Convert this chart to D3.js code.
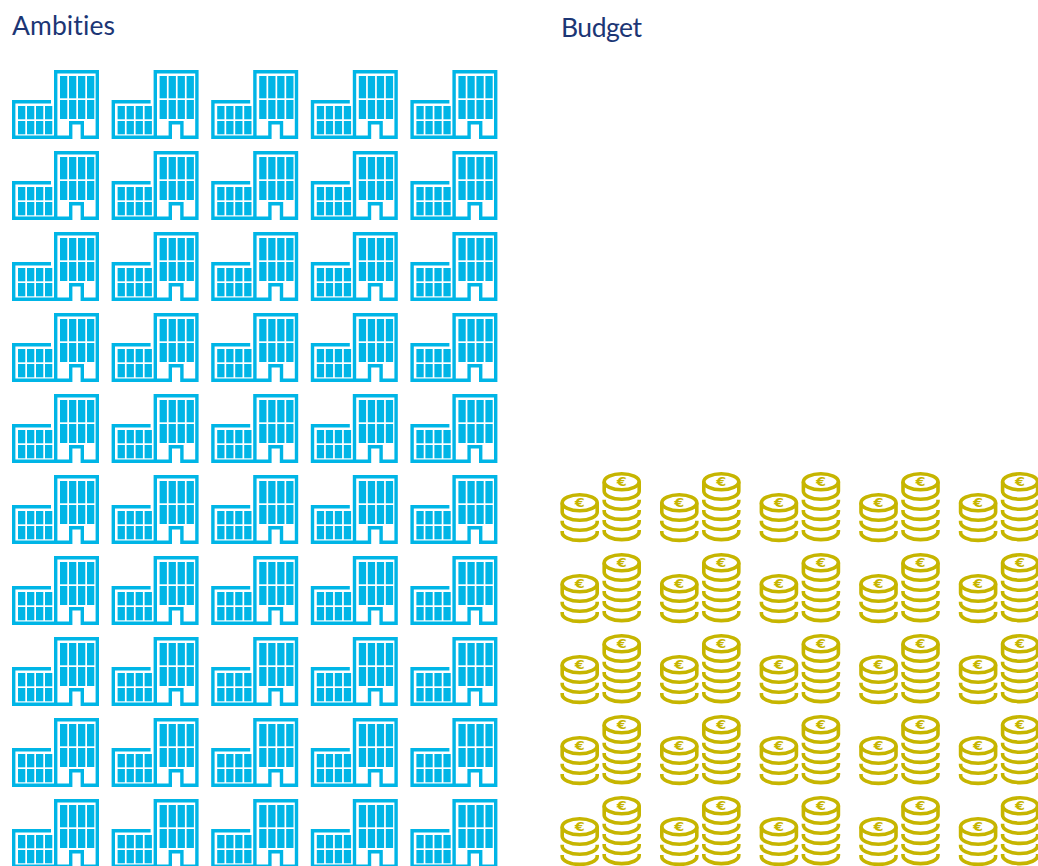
<!DOCTYPE html>
<html>
<head>
<meta charset="utf-8">
<script src="https://cdnjs.cloudflare.com/ajax/libs/d3/7.8.5/d3.min.js"></script>
<style>
  html, body { margin: 0; padding: 0; background: #fff; overflow: hidden; }
  svg { display: block; }
  .title { font-family: "Lato", sans-serif; font-size: 26.5px; fill: #1c3675; font-variant-ligatures: none; }
</style>
</head>
<body>
<div id="chart"></div>
<script>
var categories = ['Ambities', 'Budget'];
var unitCounts = [50, 25];
var perRow = 5;

var width = 1038;
var height = 866;
var blue = '#00b5e6';
var gold = '#c6b500';

var svg = d3.select('#chart').append('svg')
    .attr('width', width)
    .attr('height', height);

var defs = svg.append('defs');

// building icon, 87 x 69
var building = defs.append('g').attr('id', 'building');
building.append('path')
    .attr('fill', 'none')
    .attr('stroke', blue)
    .attr('stroke-width', 3.4)
    .attr('d', 'M39,31.7H1.7V67.3H58.7V52.7H70.3V67.3H85.3V1.7H43.7V67.3');
[48, 57, 66, 75].forEach(function(x) {
  building.append('rect').attr('x', x).attr('y', 6).attr('width', 7.3).attr('height', 22.3).attr('fill', blue);
  building.append('rect').attr('x', x).attr('y', 30).attr('width', 7.3).attr('height', 19).attr('fill', blue);
});
[6, 15, 24, 33].forEach(function(x) {
  building.append('rect').attr('x', x).attr('y', 36).attr('width', 7.3).attr('height', 13.3).attr('fill', blue);
  building.append('rect').attr('x', x).attr('y', 51).attr('width', 7.3).attr('height', 13.3).attr('fill', blue);
});

// coin stacks icon, 81 x 70
var coinStack = function(cx, top, layers) {
  var rx = 17.5, ry = 8, cy = top + ry + 1.8;
  var coins = defs.select('#coins');
  coins.append('ellipse')
      .attr('cx', cx).attr('cy', cy).attr('rx', rx).attr('ry', ry);
  var bottom = cy + ry + 9.4;
  coins.append('path')
      .attr('d', 'M' + (cx - rx) + ',' + cy + 'V' + (bottom - ry)
        + 'A' + rx + ',' + ry + ' 0 0 0 ' + (cx + rx) + ',' + (bottom - ry) + 'V' + cy);
  for (var i = 1; i < layers; i++) {
    var b = bottom + i * 10.1;
    coins.append('path')
        .attr('d', 'M' + (cx - rx) + ',' + (b - ry - 1.5) + 'V' + (b - ry)
          + 'A' + rx + ',' + ry + ' 0 0 0 ' + (cx + rx) + ',' + (b - ry) + 'V' + (b - ry - 1.5));
  }
  coins.append('text')
      .attr('transform', 'translate(' + cx + ',' + (cy + 4.2) + ') scale(1.25,1)')
      .attr('text-anchor', 'middle')
      .attr('font-family', 'DejaVu Sans')
      .attr('font-weight', 'bold')
      .attr('font-size', 11.5)
      .attr('fill', gold)
      .attr('stroke', 'none')
      .text('€');
};
defs.append('g').attr('id', 'coins')
    .attr('fill', 'none')
    .attr('stroke', gold)
    .attr('stroke-width', 3.6);
coinStack(19.7, 21, 3);
coinStack(61.7, 0, 5);

// columns and rows of units, row 0 is the bottom one
var colX = d3.scaleLinear().domain([0, 1]).range([0, 99.6]);
var rowY = d3.scaleLinear().domain([0, 1]).range([0, -81]);

var panels = [
  {name: categories[0], count: unitCounts[0], icon: '#building', x: 12, y: 799, titleX: 12, titleY: 35, titleW: 103},
  {name: categories[1], count: unitCounts[1], icon: '#coins', x: 560, y: 796, titleX: 561, titleY: 37, titleW: 81}
];

panels.forEach(function(p) {
  svg.append('text')
      .attr('class', 'title')
      .attr('x', p.titleX)
      .attr('y', p.titleY)
      .attr('textLength', p.titleW)
      .text(p.name);

  svg.append('g').selectAll('use')
      .data(d3.range(p.count))
      .enter().append('use')
      .attr('href', p.icon)
      .attr('x', function(d) { return p.x + colX(d % perRow); })
      .attr('y', function(d) { return p.y + rowY(Math.floor(d / perRow)); });
});
</script>
</body>
</html>
